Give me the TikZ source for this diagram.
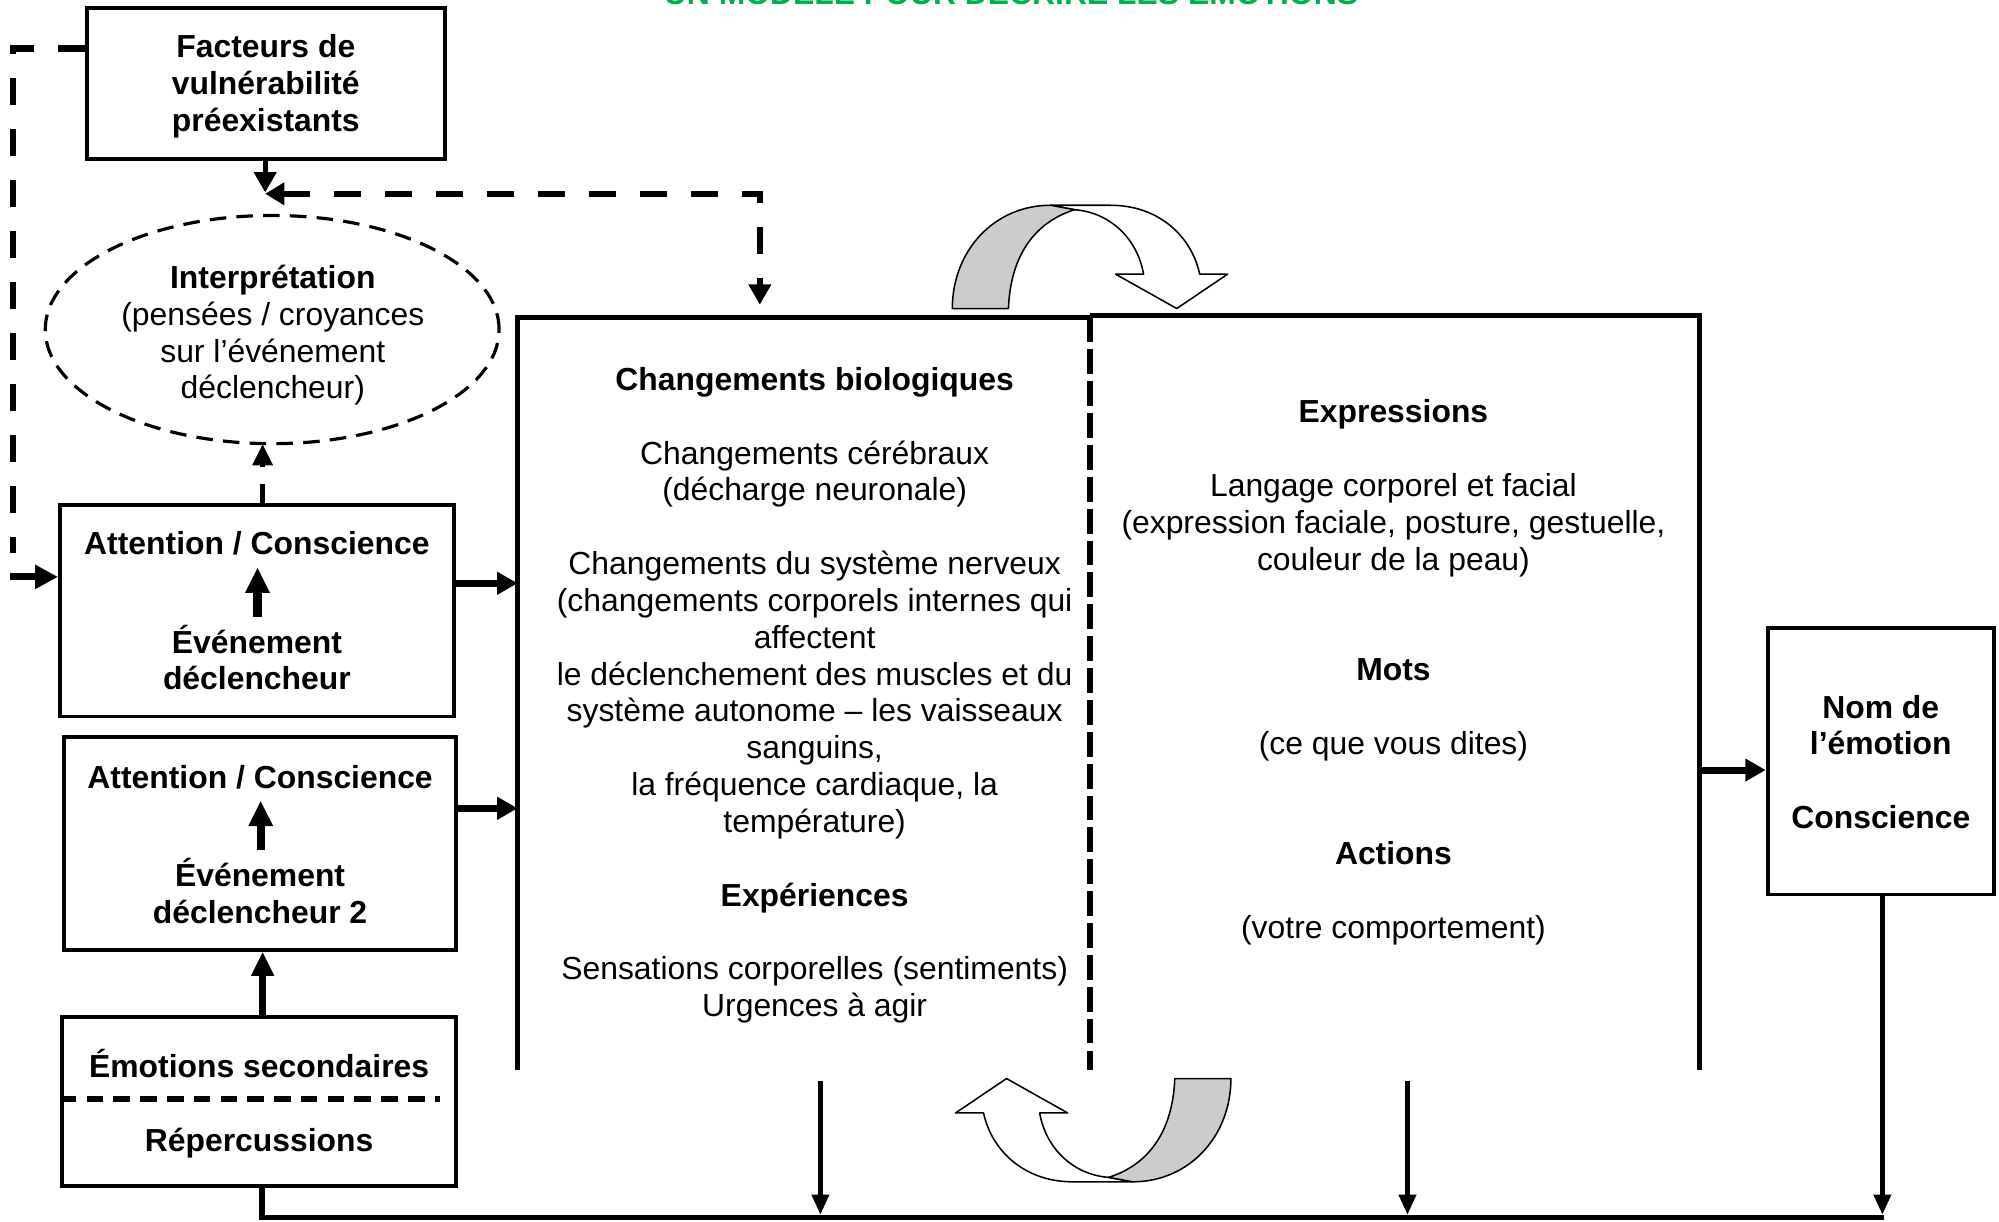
\documentclass[tikz,border=0pt]{standalone}
\usepackage{fontspec}
\setmainfont{Liberation Sans}
\usetikzlibrary{arrows.meta,shapes.geometric}
\definecolor{titlegreen}{RGB}{0,176,80}
\definecolor{ribbongray}{RGB}{204,204,204}
\newcommand\myfs{\fontsize{25pt}{28.9pt}\selectfont\lineskiplimit=-100pt\relax}
\newcommand\mystrut{\rule{0pt}{24pt}}
\tikzset{
  txt/.style={font=\myfs, align=center, inner sep=0pt, anchor=north},
  boxed/.style={draw, line width=3pt, inner sep=0pt},
  bigline/.style={line width=4.5pt},
  dashthick/.style={line width=5pt, dash pattern=on 21pt off 19pt},
  thickarrow/.style={line width=5.5pt, -{Triangle[length=16pt,width=17pt]}},
  innerarrow/.style={line width=6.5pt, -{Triangle[length=20pt,width=18pt]}},
  downarrow/.style={line width=4pt, -{Triangle[length=16pt,width=13pt]}},
  uturn/.pic={
    \filldraw[fill=white, line width=1.2pt, line join=round]
      (16,-40.5) .. controls (55,-40.5) and (80,-15) .. (86,13.5)
      -- (108,13.5) -- (68,40.5) -- (20,13.5) -- (42,13.5)
      .. controls (37,-15) and (15,-35) .. (-12,-37) -- (-31,-40.5) -- cycle;
    \filldraw[fill=ribbongray, line width=1.2pt, line join=round]
      (-108,40.5) .. controls (-108,-5) and (-75,-40.5) .. (-31,-40.5)
      -- (-12,-37) .. controls (-35,-30) and (-62,-10) .. (-64,40.5) -- cycle;
  }
}
\begin{document}
\begin{tikzpicture}[x=1pt,y=-1pt]
\useasboundingbox (0,0) rectangle (1568,958.5);

% title (cut at the top edge)
\node[font=\fontsize{25pt}{28.9pt}\selectfont\bfseries, text=titlegreen, anchor=base, inner sep=0pt] (title) at (793,3.5) {UN MODÈLE POUR DÉCRIRE LES ÉMOTIONS};

% boxes
\node[boxed, minimum width=281pt, minimum height=119pt] (fact) at (208.5,65.5) {};
\node[boxed, minimum width=309pt, minimum height=166pt] (att1) at (201.5,479) {};
\node[boxed, minimum width=308pt, minimum height=167pt] (att2) at (204,661.5) {};
\node[boxed, minimum width=309.5pt, minimum height=132.5pt] (emo) at (203.25,864.25) {};
\node[boxed, minimum width=177.5pt, minimum height=209pt] (nom) at (1475.25,597.1) {};
\node[draw, ellipse, line width=2.5pt, dash pattern=on 13pt off 8pt, minimum width=356pt, minimum height=179pt, inner sep=0pt] (ell) at (213.5,258.5) {};

% texts
\node[txt] (factT) at (208.5,21) {\mystrut\bfseries Facteurs de\\\bfseries vulnérabilité\\\bfseries préexistants};
\node[txt] (ellT) at (214,202) {\mystrut\textbf{Interprétation}\\(pensées / croyances\\sur l’événement\\déclencheur)};
\node[txt] (a1t) at (201.5,411) {\mystrut\textbf{Attention / Conscience}};
\node[txt] (a1b) at (201.5,488) {\mystrut\bfseries Événement\\\bfseries déclencheur};
\node[txt] (a2t) at (204,594) {\mystrut\textbf{Attention / Conscience}};
\node[txt] (a2b) at (204,671) {\mystrut\bfseries Événement\\\bfseries déclencheur 2};
\node[txt] (emoT) at (203.25,821) {\mystrut\textbf{Émotions secondaires}};
\node[txt] (repT) at (203.25,879) {\mystrut\textbf{Répercussions}};
\node[txt] (bioT) at (639,282) {\mystrut\textbf{Changements biologiques}\\
 \\
Changements cérébraux\\
(décharge neuronale)\\
 \\
Changements du système nerveux\\
(changements corporels internes qui\\
affectent\\
le déclenchement des muscles et du\\
système autonome – les vaisseaux\\
sanguins,\\
la fréquence cardiaque, la\\
température)\\
 \\
\textbf{Expériences}\\
 \\
Sensations corporelles (sentiments)\\
Urgences à agir};
\node[txt] (expT) at (1093,307.4) {\mystrut\textbf{Expressions}\\
 \\
Langage corporel et facial\\
(expression faciale, posture, gestuelle,\\
couleur de la peau)\\
 \\
 \\
\textbf{Mots}\\
 \\
(ce que vous dites)\\
 \\
 \\
\textbf{Actions}\\
 \\
(votre comportement)};
\node[txt] (nomT) at (1475.25,539) {\mystrut\bfseries Nom de\\\bfseries l’émotion\\ \\\bfseries Conscience};

% big box
\coordinate (bTL) at (406,249);
\coordinate (bBL) at (406,839);
\coordinate (bTM) at (855,249);
\coordinate (bTMr) at (855,247.5);
\coordinate (bBM) at (855,839);
\coordinate (bTR) at (1333,247.5);
\coordinate (bBR) at (1333,839);
\draw[bigline] (bBL) -- (bTL) -- (bTM);
\draw[bigline] (bTMr) -- (bTR) -- (bBR);
\draw[line width=4.5pt, dash pattern=on 19.5pt off 5.5pt] (bTM) -- (bBM);

% dashed connectors at the top left
\coordinate (jn) at (208,151);
\coordinate (jr) at (596,152);
\coordinate (jd) at (596,239);
\draw[line width=4pt, -{Triangle[length=16pt,width=17pt]}] (fact.south -| jn) -- (jn);
\draw[dashthick, {Triangle[length=15pt,width=17pt]}-{Triangle[length=16pt,width=17pt]}] (jn |- jr) -- (jr) -- (jd);

\coordinate (dl0) at (68,38);
\coordinate (dl1) at (10,38);
\coordinate (dl2) at (10,434);
\coordinate (dl3) at (8,452.5);
\draw[dashthick] (fact.west |- dl0) -- (dl1) -- (dl2);
\draw[thickarrow, -{Triangle[length=18pt,width=18pt]}] (dl3) -- (att1.west |- dl3);

\coordinate (eu) at (206,348);
\draw[line width=4.5pt, dash pattern=on 15pt off 13pt, -{Triangle[length=17pt,width=15pt]}] (att1.north -| eu) -- (eu);

% arrows inside the left boxes
\coordinate (a1s) at (202,484);
\coordinate (a1e) at (202,445);
\draw[innerarrow] (a1s) -- (a1e);
\coordinate (a2s) at (204.5,667);
\coordinate (a2e) at (204.5,628);
\draw[innerarrow] (a2s) -- (a2e);

% arrows to the big box
\coordinate (in1) at (406,457.5);
\coordinate (in2) at (406,634);
\draw[thickarrow] (att1.east |- in1) -- (in1);
\draw[thickarrow] (att2.east |- in2) -- (in2);

% secondary emotions
\coordinate (ed) at (345,862);
\draw[line width=4pt, dash pattern=on 13pt off 8pt] (emo.west |- ed) -- (ed);
\coordinate (eup) at (206,797.5);
\draw[line width=5pt, -{Triangle[length=19pt,width=17pt]}] (eup) -- (att2.south -| eup);

% to the name box
\coordinate (out) at (1333,604);
\draw[thickarrow] (out) -- (nom.west |- out);

% bottom line
\coordinate (eb) at (205.5,930.5);
\coordinate (bl) at (205.5,955);
\coordinate (br) at (1478,955);
\draw[line width=4.5pt] (eb) -- (bl) -- (br);
\coordinate (d1t) at (643.5,848);
\coordinate (d1b) at (643.5,953);
\coordinate (d2t) at (1104,848);
\coordinate (d2b) at (1104,953);
\draw[downarrow] (d1t) -- (d1b);
\draw[downarrow] (d2t) -- (d2b);
\coordinate (nb) at (1476.5,953);
\draw[downarrow] (nom.south -| nb) -- (nb);

% curved block arrows
\pic (uturnTop) at (855,201.5) {uturn};
\pic[rotate=180] (uturnBot) at (857.5,886.5) {uturn};
\end{tikzpicture}
\end{document}
